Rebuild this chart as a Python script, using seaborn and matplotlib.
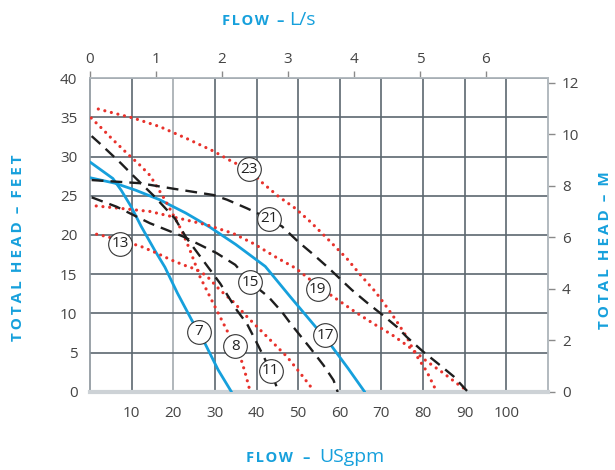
import numpy as np
import pandas as pd
import matplotlib
matplotlib.use("Agg")
import matplotlib.pyplot as plt
import seaborn as sns

# pump curves: flow (USgpm) vs total head (feet)
c7_x = [0, 5.5, 7.5, 9.9, 12.3, 15.5, 18, 21, 24.4, 27.6, 30.8, 34]
c7_y = [29.3, 27.2, 25.7, 23.6, 21.1, 18.1, 15.9, 12.6, 9.2, 6.2, 2.8, 0]

c17_x = [0, 6, 11, 16.7, 23, 28.8, 35, 42.1, 48, 54.5, 58.1, 62, 66]
c17_y = [27.3, 26.6, 25.7, 24.5, 22.8, 21.0, 18.8, 16.0, 12.2, 8.1, 5.8, 3.0, 0]

c8_x = [0.3, 3, 5.2, 9.1, 12, 14.4, 18, 22, 24, 26.4, 29.6, 33.7, 36.1, 37.3, 38.5]
c8_y = [34.9, 33.5, 32.3, 30.3, 28.9, 27.6, 24.5, 20.6, 18.1, 14.7, 11.3, 7.0, 4.5, 2.4, 0]

c13_x = [1.6, 4.0, 12.0, 16.0, 19.6, 22.4, 25.6, 28.0, 31.2, 34.4, 37.7, 40.9, 44.1, 47.3, 50.5, 53.7]
c13_y = [20.1, 19.8, 18.6, 17.7, 16.8, 16.2, 15.6, 14.8, 13.0, 11.5, 9.6, 7.9, 6.2, 4.5, 2.4, 0.2]

c19_x = [1.5, 7.2, 14.4, 21.6, 28.0, 34.4, 39.3, 44.9, 49.3, 54.6, 57.7, 63.7, 68.1, 72.5, 76.5, 80.9, 84.9, 88.1, 90.5]
c19_y = [23.7, 23.4, 23.0, 22.1, 21.3, 20.2, 18.9, 17.1, 15.8, 13.6, 12.4, 10.2, 8.7, 7.3, 5.8, 3.9, 2.4, 1.1, 0.2]

c23_x = [2.0, 5.2, 10.4, 16.8, 23.2, 29.6, 34.3, 38.1, 41.3, 45.3, 49.3, 52.9, 56.9, 61.7, 65.3, 68.5, 70.9, 73.3, 76.1, 78.1, 80.9, 83.3]
c23_y = [36.05, 35.6, 34.9, 33.8, 32.3, 30.7, 29.3, 28.4, 26.7, 24.9, 23.4, 21.7, 19.6, 17.0, 14.7, 12.8, 11.1, 9.3, 7.0, 4.9, 2.6, 0]

c11_x = [0.4, 2.7, 7.5, 10.3, 15.5, 20.4, 23.2, 27.4, 31.3, 35.3, 37.7, 40.5, 43.4, 45.3]
c11_y = [32.6, 31.5, 29.1, 27.6, 24.9, 22.1, 19.6, 16.6, 13.8, 10.4, 8.7, 5.8, 2.7, 0]

c15_x = [0.4, 6.4, 14.4, 22.4, 30.4, 34.9, 38.5, 42.9, 46.1, 48.5, 52.9, 56.1, 58.5, 59.5]
c15_y = [24.8, 23.6, 21.5, 19.8, 17.7, 16.2, 14.0, 12.1, 10.2, 8.5, 5.6, 3.4, 1.5, 0]

c21_x = [0.4, 12.0, 20.0, 29.6, 32.9, 37.7, 42.9, 46.1, 50.1, 53.7, 57.3, 62.9, 66.5, 70.3, 73.7, 76.1, 80.1, 84.1, 87.3, 90.8]
c21_y = [27.0, 26.6, 25.9, 25.1, 24.5, 23.4, 22.1, 21.1, 19.1, 17.5, 15.8, 13.0, 11.4, 9.8, 8.3, 7.0, 5.1, 3.4, 2.0, 0]

# circled model labels
lbl_names = ["23", "21", "13", "15", "19", "7", "8", "17", "11"]
lbl_x = [38.1, 42.9, 7.2, 38.5, 54.7, 26.1, 34.9, 56.5, 43.4]
lbl_y = [28.4, 22.1, 18.9, 14.0, 13.1, 7.7, 5.8, 7.2, 2.7]

x_ticks = [10, 20, 30, 40, 50, 60, 70, 80, 90, 100]
y_ticks = [0, 5, 10, 15, 20, 25, 30, 35, 40]
ls_ticks = [0, 1, 2, 3, 4, 5, 6]
m_ticks = [0, 2, 4, 6, 8, 10, 12]

GPM_PER_LS = 15.85
M_PER_FT = 0.3048

blue = "#16a0dc"
red = "#e8322c"
black = "#1e1e1e"
grid_c = "#5c6770"
tick_c = "#444444"

sns.set_theme(style="white")
plt.rcParams["font.family"] = ["Open Sans", "DejaVu Sans"]

fig = plt.figure(figsize=(6.15, 4.70), dpi=100)
ax = fig.add_axes([0.1463, 0.166, 0.7447, 0.668])

solid = dict(color=blue, lw=2.0, linestyle="-")
dotted = dict(color=red, lw=2.3, linestyle=(0, (0.01, 2.1)), dash_capstyle="round")
dashed = dict(color=black, lw=1.7, linestyle=(0, (5.0, 3.0)))

curves = [
    (c7_x, c7_y, solid), (c17_x, c17_y, solid),
    (c8_x, c8_y, dotted), (c13_x, c13_y, dotted),
    (c19_x, c19_y, dotted), (c23_x, c23_y, dotted),
    (c11_x, c11_y, dashed), (c15_x, c15_y, dashed), (c21_x, c21_y, dashed),
]
for cx, cy, st in curves:
    sns.lineplot(x=cx, y=cy, ax=ax, sort=False, errorbar=None, zorder=3, **st)

# label circles
sns.scatterplot(x=lbl_x, y=lbl_y, ax=ax, s=290, color="white",
                edgecolor="#333333", linewidth=0.8, zorder=5)
for name, lx, ly in zip(lbl_names, lbl_x, lbl_y):
    ax.text(lx, ly, name, ha="center", va="center", fontsize=11,
            color="#222222", zorder=6)

ax.set_xlim(0, 110)
ax.set_ylim(0, 40)
ax.set_xticks(x_ticks)
ax.set_yticks(y_ticks)
ax.grid(True, color=grid_c, lw=1.2)
ax.xaxis.get_gridlines()[1].set_color("#a3aaaf")
ax.set_axisbelow(True)
ax.tick_params(axis="both", length=0, labelsize=11, labelcolor=tick_c)
ax.tick_params(axis="x", pad=10)
ax.tick_params(axis="y", pad=9)
ax.set_xlabel("")
ax.set_ylabel("")

for side in ["left", "top", "right"]:
    ax.spines[side].set_color("#b3babf")
    ax.spines[side].set_linewidth(1.2)
ax.spines["left"].set_color("#8a949b")
ax.spines["bottom"].set_color("#cdd2d6")
ax.spines["bottom"].set_linewidth(3)

# secondary scales
top = ax.secondary_xaxis("top", functions=(lambda v: v / GPM_PER_LS,
                                           lambda v: v * GPM_PER_LS))
top.set_xticks(ls_ticks)
top.tick_params(length=5, width=1, color="#8a8a8a", pad=3,
                labelsize=11, labelcolor=tick_c)
top.spines["top"].set_color("#b3babf")

right = ax.secondary_yaxis("right", functions=(lambda v: v * M_PER_FT,
                                               lambda v: v / M_PER_FT))
right.set_yticks(m_ticks)
right.tick_params(length=5, width=1, color="#8a8a8a", pad=5,
                  labelsize=11, labelcolor=tick_c)
right.spines["right"].set_color("#b3babf")


def spaced(s, gap="\u2009"):
    # letter-spaced caps
    return " ".join(gap.join(w) for w in s.split(" "))


# axis titles (blue)
cap = dict(color=blue, fontweight="bold", va="baseline")
fig.text(269 / 615, 1 - 25 / 470, spaced("FLOW", "\u200a"), ha="right",
         fontsize=10.5, **cap)
fig.text(280 / 615, 1 - 25 / 470, "–", ha="center", fontsize=10.5, **cap)
fig.text(289 / 615, 1 - 25 / 470, "L/s", ha="left", va="baseline",
         fontsize=14, color=blue)
fig.text(293 / 615, 1 - 462 / 470, spaced("FLOW", "\u200a"), ha="right",
         fontsize=10.5, **cap)
fig.text(306 / 615, 1 - 462 / 470, "–", ha="center", fontsize=10.5, **cap)
fig.text(319 / 615, 1 - 462 / 470, "USgpm", ha="left", va="baseline",
         fontsize=14, color=blue)
fig.text(18 / 615, 1 - 248 / 470, spaced("TOTAL  HEAD  –  FEET"),
         rotation=90, ha="center", va="center", fontsize=11,
         color=blue, fontweight="bold")
fig.text(605 / 615, 1 - 250 / 470, spaced("TOTAL  HEAD  –  M"),
         rotation=90, ha="center", va="center", fontsize=11,
         color=blue, fontweight="bold")

fig.savefig("out.png", dpi=100)
